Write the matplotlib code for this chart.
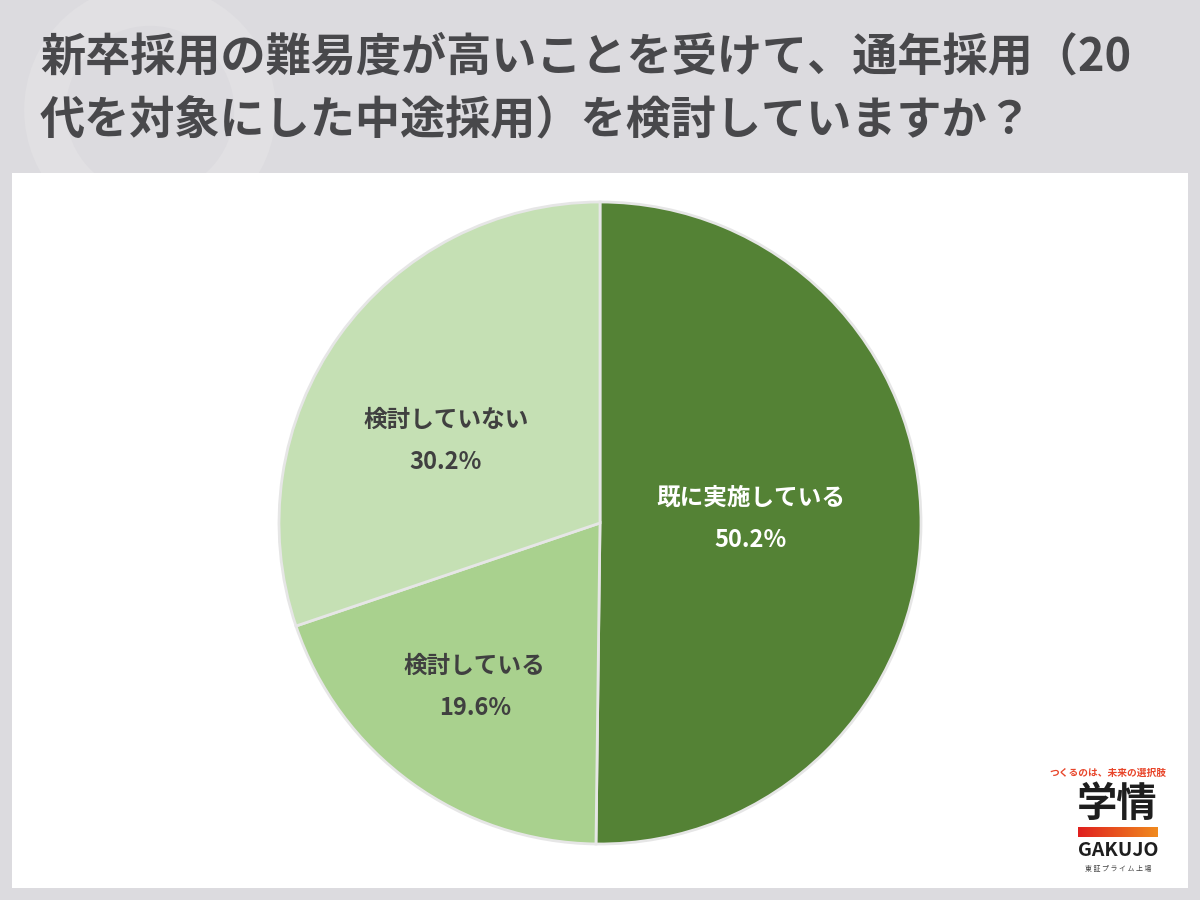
import matplotlib.pyplot as plt
import numpy as np
from matplotlib.patches import Rectangle, Circle
from matplotlib.colors import LinearSegmentedColormap

plt.rcParams['font.family'] = ['Noto Sans CJK JP', 'DejaVu Sans']

# データ
title_lines = ["新卒採用の難易度が高いことを受けて、通年採用（20",
               "代を対象にした中途採用）を検討していますか？"]
labels = ['既に実施している', '検討している', '検討していない']
values = [50.2, 19.6, 30.2]
colors = ['#548235', '#a9d18e', '#c5e0b4']
label_colors = ['white', '#404040', '#404040']

fig = plt.figure(figsize=(12, 9), dpi=100)
fig.patch.set_facecolor('#dcdbdf')

# 背景・パネル（ピクセル座標）
bg = fig.add_axes([0, 0, 1, 1])
bg.axis('off')
bg.add_patch(Circle((150, 110), 105, facecolor='none', edgecolor='#e1e0e3', linewidth=30, zorder=0))
bg.add_patch(Rectangle((12, 173), 1176, 715, facecolor='white', edgecolor='none', zorder=1))

for i, line in enumerate(title_lines):
    bg.text(40, 57 + 63 * i, line, fontsize=32.5, fontweight='bold', color='#48484b',
            ha='left', va='center', zorder=2)

# ロゴ
bg.text(1108, 773, 'つくるのは、未来の選択肢', fontsize=7, color='#e8452a',
        ha='center', va='center', fontweight='bold', zorder=2)
bg.text(1117, 804, '学情', fontsize=29, color='#1e1e1e', ha='center', va='center',
        fontweight='bold', zorder=2)
grad = np.linspace(0, 1, 100).reshape(1, -1)
bg.imshow(grad, extent=(1078, 1158, 837, 827),
          cmap=LinearSegmentedColormap.from_list('g', ['#e0201e', '#f08a1e']),
          aspect='auto', zorder=2)
bg.text(1118, 850, 'GAKUJO', fontsize=14, color='#1e1e1e', ha='center', va='center',
        fontweight='bold', zorder=2)
bg.text(1118, 869, '東 証 プ ラ イ ム 上 場', fontsize=5, color='#444444', ha='center', va='center', zorder=2)
bg.set_xlim(0, 1200)
bg.set_ylim(900, 0)

# 円グラフ
cx, cy, r = 600, 523, 321
ax = fig.add_axes([(cx - r) / 1200, (900 - cy - r) / 900, 2 * r / 1200, 2 * r / 900])
ax.pie(values, colors=colors, startangle=90, counterclock=False, radius=1,
       wedgeprops=dict(edgecolor='#e6e6e6', linewidth=2))
ax.set_xlim(-1, 1)
ax.set_ylim(-1, 1)
ax.axis('off')

label_pos = [(0.47, 0.013), (-0.39, -0.51), (-0.48, 0.255)]
for lab, v, (x, y), tc in zip(labels, values, label_pos, label_colors):
    ax.text(x, y, f'{lab}\n{v}%', ha='center', va='center', fontsize=17,
            fontweight='bold', color=tc, linespacing=1.95)

fig.savefig('out.png', dpi=100, facecolor=fig.get_facecolor())
